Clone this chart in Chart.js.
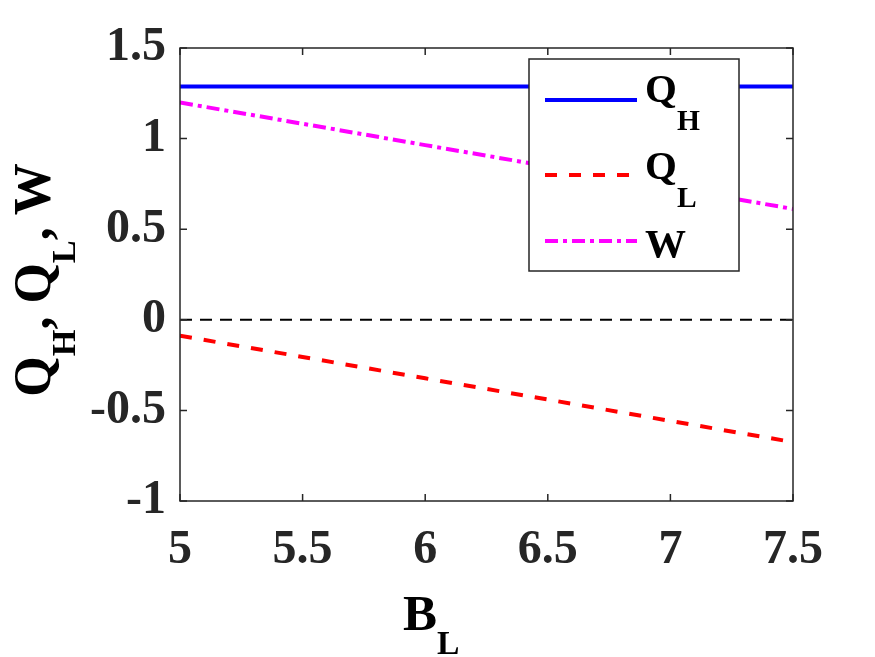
<!DOCTYPE html>
<html>
<head>
<meta charset="utf-8">
<script src="https://cdn.jsdelivr.net/npm/chart.js@4"></script>
<style>
  body { margin: 0; background: #fff; }
  #wrap { position: relative; width: 875px; height: 657px; }
  .lbl { position: absolute; font-family: "Liberation Serif", "Times New Roman", serif; font-weight: bold; color: #000; line-height: 1; white-space: nowrap; }
  .lbl .sub { position: relative; font-size: 0.66em; top: 0.72em; }
  .leg .sub { font-size: 0.72em; top: 0.95em; }
</style>
</head>
<body>
<div id="wrap">
  <canvas id="chart" width="875" height="657"></canvas>
  <!-- axis titles -->
  <div class="lbl" id="xtitle" style="font-size:51px; left:403px; top:588px;">B<span class="sub">L</span></div>
  <div class="lbl" id="ytitle" style="font-size:52px; left:-102px; top:254px; width:270px; text-align:center; transform: rotate(-90deg);">Q<span class="sub">H</span>, Q<span class="sub">L</span>, W</div>
  <!-- legend labels -->
  <div class="lbl leg" style="font-size:41px; left:645px; top:68px;">Q<span class="sub">H</span></div>
  <div class="lbl leg" style="font-size:41px; left:645px; top:145px;">Q<span class="sub">L</span></div>
  <div class="lbl leg" style="font-size:41px; left:645px; top:223px;">W</div>
</div>
<script>
// data
const bL = [5, 5.5, 6, 6.5, 7, 7.5];
const qH = [1.287, 1.287, 1.287, 1.287, 1.287, 1.287];
const qL = [-0.088, -0.205, -0.323, -0.440, -0.558, -0.675];
const work = [1.199, 1.082, 0.964, 0.847, 0.729, 0.612];
const zeroLine = [0, 0, 0, 0, 0, 0];
const xTicks = [5, 5.5, 6, 6.5, 7, 7.5];
const yTicks = [-1, -0.5, 0, 0.5, 1, 1.5];

const pts = arr => bL.map((x, i) => ({ x: x, y: arr[i] }));
const fmt = v => String(v);

// box, inward ticks (all four sides) and legend, MATLAB style
const boxPlugin = {
    id: 'box',
    afterDatasetsDraw(chart) {
        const ctx = chart.ctx;
        const a = chart.chartArea;
        const xs = chart.scales.x, ys = chart.scales.y;
        ctx.save();
        ctx.strokeStyle = '#262626';
        ctx.lineWidth = 1.5;
        ctx.strokeRect(a.left, a.top, a.right - a.left, a.bottom - a.top);
        ctx.beginPath();
        xTicks.forEach(v => {
            const px = xs.getPixelForValue(v);
            ctx.moveTo(px, a.bottom); ctx.lineTo(px, a.bottom - 7);
            ctx.moveTo(px, a.top); ctx.lineTo(px, a.top + 7);
        });
        yTicks.forEach(v => {
            const py = ys.getPixelForValue(v);
            ctx.moveTo(a.left, py); ctx.lineTo(a.left + 7, py);
            ctx.moveTo(a.right, py); ctx.lineTo(a.right - 7, py);
        });
        ctx.stroke();

        // legend box
        const lx = 529, ly = 59, lw = 210, lh = 212;
        ctx.fillStyle = '#fff';
        ctx.fillRect(lx, ly, lw, lh);
        ctx.strokeRect(lx, ly, lw, lh);
        const rows = [100, 175, 241];
        chart.data.datasets.slice(0, 3).forEach((ds, i) => {
            ctx.beginPath();
            ctx.strokeStyle = ds.borderColor;
            ctx.lineWidth = ds.borderWidth;
            ctx.setLineDash(ds.borderDash || []);
            ctx.moveTo(545, rows[i]);
            ctx.lineTo(637, rows[i]);
            ctx.stroke();
        });
        ctx.restore();
    }
};

const tickFont = { family: '"Liberation Serif", "Times New Roman", serif', weight: 'bold', size: 48 };

new Chart(document.getElementById('chart'), {
    type: 'line',
    data: {
        datasets: [
            { label: 'QH', data: pts(qH), borderColor: '#0000ff', borderWidth: 4, pointRadius: 0 },
            { label: 'QL', data: pts(qL), borderColor: '#ff0000', borderWidth: 4, borderDash: [12, 12], pointRadius: 0 },
            { label: 'W', data: pts(work), borderColor: '#ff00ff', borderWidth: 4, borderDash: [13, 5, 4, 5], pointRadius: 0 },
            { label: 'zero', data: pts(zeroLine), borderColor: '#000000', borderWidth: 2, borderDash: [12, 8], pointRadius: 0 }
        ]
    },
    options: {
        responsive: false,
        animation: false,
        layout: { padding: { top: 48, right: 82, left: 0, bottom: 0 } },
        plugins: { legend: { display: false }, tooltip: { enabled: false } },
        scales: {
            x: {
                type: 'linear', min: 5, max: 7.5,
                afterBuildTicks: s => { s.ticks = xTicks.map(v => ({ value: v })); },
                afterFit: s => { s.height = 156; },
                grid: { display: false, drawTicks: false },
                border: { display: false },
                ticks: { color: '#262626', padding: 21, maxRotation: 0, font: tickFont, callback: fmt }
            },
            y: {
                type: 'linear', min: -1, max: 1.5,
                afterBuildTicks: s => { s.ticks = yTicks.map(v => ({ value: v })); },
                afterFit: s => { s.width = 180; },
                grid: { display: false, drawTicks: false },
                border: { display: false },
                ticks: { color: '#262626', padding: 14, font: tickFont, callback: fmt }
            }
        }
    },
    plugins: [boxPlugin]
});
</script>
</body>
</html>
